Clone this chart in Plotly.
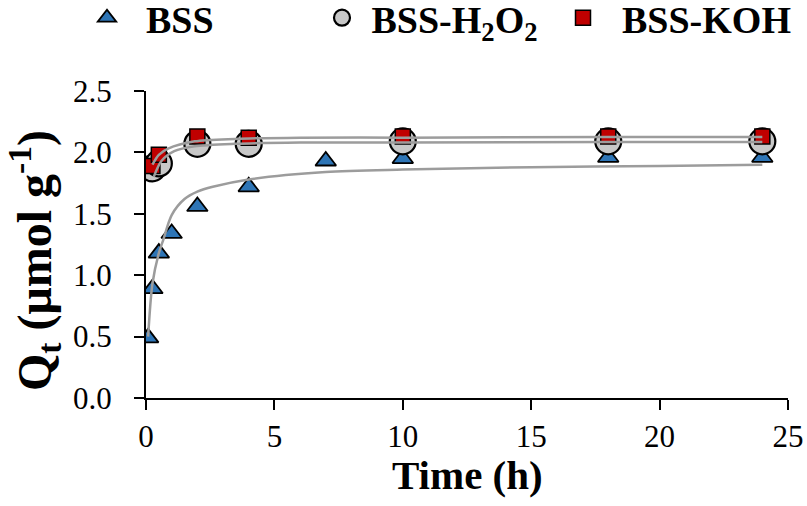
import plotly.graph_objects as go

# Observed data
t_bss = [0.083, 0.25, 0.5, 1, 2, 4, 7, 10, 18, 24]
q_bss = [0.49, 0.89, 1.18, 1.34, 1.56, 1.72, 1.93, 1.95, 1.96, 1.96]

t_mod = [0.25, 0.5, 2, 4, 10, 18, 24]
q_h2o2 = [1.87, 1.91, 2.07, 2.07, 2.09, 2.09, 2.09]
q_koh = [1.89, 1.98, 2.13, 2.12, 2.13, 2.13, 2.13]

# Fitted curves
fit_t_bss = [0.083, 0.25, 0.5, 0.66, 1.0, 1.5, 2, 2.6, 4, 7, 10, 15, 20, 24]
fit_q_bss = [0.50, 0.93, 1.18, 1.28, 1.49, 1.62, 1.68, 1.72, 1.78, 1.84, 1.86, 1.88, 1.89, 1.90]
fit_t_h2o2 = [0.3, 0.6, 1.1, 1.9, 3.45, 6, 10, 18, 24]
fit_q_h2o2 = [1.80, 1.93, 2.01, 2.05, 2.07, 2.08, 2.08, 2.085, 2.085]
fit_t_koh = [0.25, 0.5, 0.86, 1.9, 3.45, 6, 10, 18, 24]
fit_q_koh = [1.90, 1.98, 2.03, 2.09, 2.11, 2.12, 2.12, 2.125, 2.125]

x_ticks = [0, 5, 10, 15, 20, 25]
y_ticks = [0.0, 0.5, 1.0, 1.5, 2.0, 2.5]
y_ticklabels = ["0.0", "0.5", "1.0", "1.5", "2.0", "2.5"]

FONT = "Liberation Serif"
LINE = "#9c9c9c"
NB = "\u00a0"

fig = go.Figure()
fig.add_trace(go.Scatter(x=t_bss, y=q_bss, mode="markers", name=NB * 2 + "<b>BSS</b>",
                         marker=dict(symbol="triangle-up", size=18, color="#2e75b6",
                                     line=dict(color="black", width=1.8)),
                         legend="legend"))
fig.add_trace(go.Scatter(x=t_mod, y=q_h2o2, mode="markers",
                         name=NB + "<b>BSS-H<sub>2</sub>O<sub>2</sub></b>",
                         marker=dict(symbol="circle", size=26, color="#c8c8c8",
                                     line=dict(color="black", width=2.2)),
                         legend="legend2"))
fig.add_trace(go.Scatter(x=t_mod, y=q_koh, mode="markers", name=NB * 2 + "<b>BSS-KOH</b>",
                         marker=dict(symbol="square", size=15, color="#c00000",
                                     line=dict(color="black", width=1.5)),
                         legend="legend3"))
for fx, fy in [(fit_t_bss, fit_q_bss), (fit_t_h2o2, fit_q_h2o2), (fit_t_koh, fit_q_koh)]:
    fig.add_trace(go.Scatter(x=fx, y=fy, mode="lines", showlegend=False,
                             line=dict(color=LINE, width=2.5, shape="spline", smoothing=0.8),
                             hoverinfo="skip"))

W, H = 807, 506
L, R, T, B = 146, 19, 91, 108
PW, PH = W - L - R, H - T - B

leg_y = 1 - 18 / H
leg_common = dict(orientation="h", yanchor="middle", xanchor="left", y=leg_y,
                  xref="container", yref="container",
                  font=dict(family=FONT, size=38, color="black"),
                  bgcolor="rgba(0,0,0,0)", itemsizing="trace")
fig.update_layout(
    width=W, height=H,
    margin=dict(l=L, r=R, t=T, b=B),
    plot_bgcolor="white", paper_bgcolor="white",
    legend=dict(x=87 / W, **leg_common),
    legend2=dict(x=322 / W, **leg_common),
    legend3=dict(x=563 / W, **leg_common),
    xaxis=dict(range=[0, 25], tickvals=x_ticks, showgrid=False, zeroline=False,
               automargin=False,
               showline=True, linecolor="black", linewidth=2,
               ticks="outside", ticklen=10, tickwidth=2, tickcolor="black",
               ticklabelstandoff=0,
               tickfont=dict(family=FONT, size=31, color="black")),
    yaxis=dict(range=[0, 2.5], tickvals=y_ticks, ticktext=y_ticklabels, showgrid=False,
               zeroline=False, automargin=False,
               showline=True, linecolor="black", linewidth=2,
               ticks="outside", ticklen=10, tickwidth=2, tickcolor="black",
               ticklabelstandoff=16,
               tickfont=dict(family=FONT, size=31, color="black")),
    annotations=[
        dict(text="<b>Time (h)</b>", xref="paper", yref="paper",
             x=(467 - L) / PW, y=(H - B - 475) / PH, xanchor="center", yanchor="middle",
             showarrow=False, font=dict(family=FONT, size=41, color="black")),
        dict(text="<b>Q<sub>t</sub> (μmol g<sup>-1</sup>)</b>", xref="paper", yref="paper",
             x=(34 - L) / PW, y=(H - B - 261) / PH, xanchor="center", yanchor="middle",
             textangle=-90, showarrow=False, font=dict(family=FONT, size=48, color="black")),
    ],
)
fig.write_html("out.html", config={"displayModeBar": False},
               post_script="document.body.style.margin='0';document.body.style.padding='0';")
